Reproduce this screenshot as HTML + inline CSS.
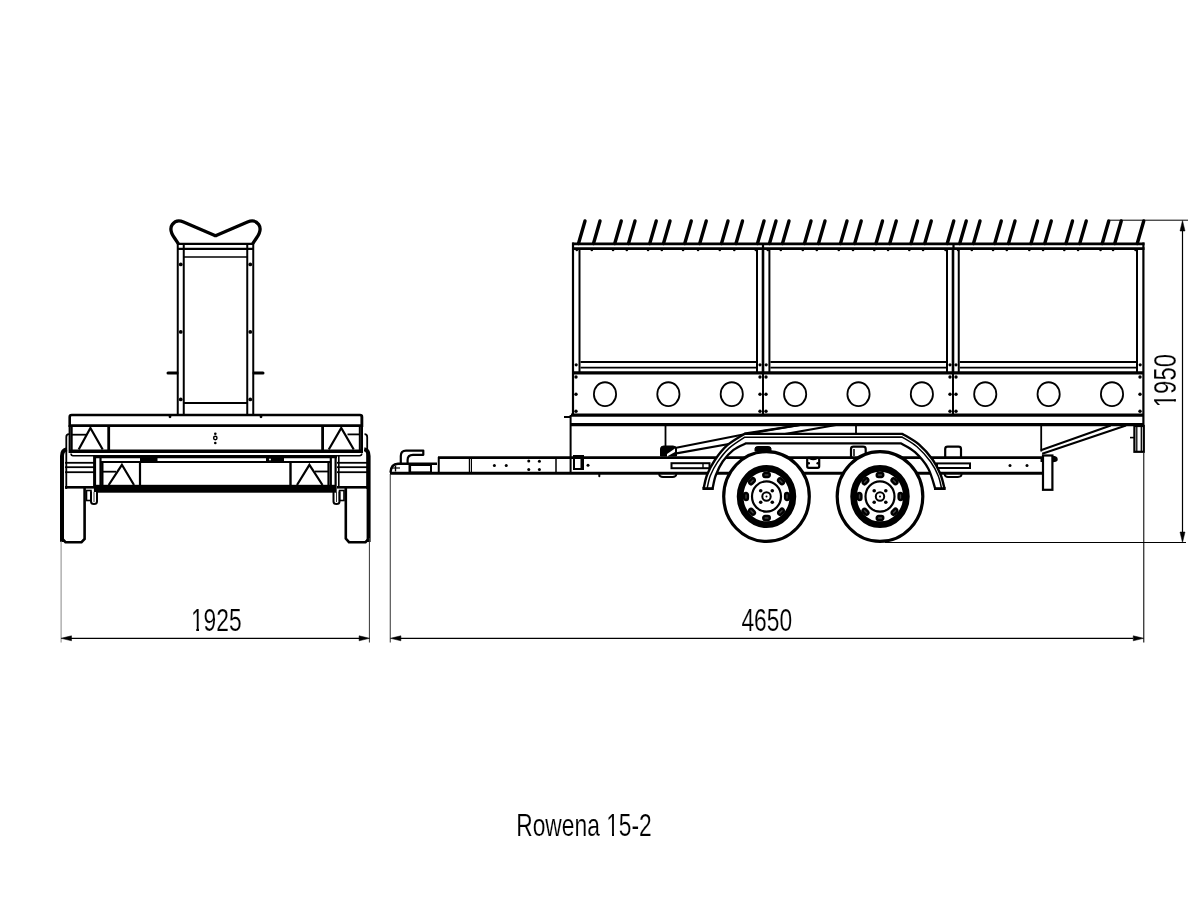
<!DOCTYPE html>
<html><head><meta charset="utf-8"><style>
html,body{margin:0;padding:0;background:#fff;}
svg{display:block;will-change:transform;}
text{font-family:"Liberation Sans", sans-serif;fill:#000;stroke:#fff;stroke-width:0.15px;}
</style></head><body>
<svg width="1200" height="900" viewBox="0 0 1200 900">
<rect width="1200" height="900" fill="#fff"/>
<path d="M178.3,243.6 L174.5,238 C171,233 169.8,228 172.3,224.5 C175,220.8 179.5,220.3 183.5,222 L214.3,235.3 Q215.5,236 216.7,235.3 L247.5,222 C251.5,220.3 256,220.8 258.7,224.5 C261.2,228 260,233 256.5,238 L252.7,243.6" fill="none" stroke="#000" stroke-width="3.3" stroke-linejoin="round"/>
<line x1="177" y1="243.9" x2="254" y2="243.9" stroke="#000" stroke-width="2.4" stroke-linecap="butt"/>
<line x1="177" y1="248.9" x2="254" y2="248.9" stroke="#000" stroke-width="2.4" stroke-linecap="butt"/>
<line x1="183.5" y1="257" x2="247.5" y2="257" stroke="#000" stroke-width="1.6" stroke-linecap="butt"/>
<line x1="177.75" y1="243" x2="177.75" y2="416" stroke="#000" stroke-width="2" stroke-linecap="butt"/>
<line x1="253.25" y1="243" x2="253.25" y2="416" stroke="#000" stroke-width="2" stroke-linecap="butt"/>
<line x1="183.75" y1="243" x2="183.75" y2="416" stroke="#000" stroke-width="2" stroke-linecap="butt"/>
<line x1="247.25" y1="243" x2="247.25" y2="416" stroke="#000" stroke-width="2" stroke-linecap="butt"/>
<circle cx="180.75" cy="264.4" r="1.9" fill="#000"/>
<circle cx="250.25" cy="264.4" r="1.9" fill="#000"/>
<circle cx="180.75" cy="331.9" r="1.9" fill="#000"/>
<circle cx="250.25" cy="331.9" r="1.9" fill="#000"/>
<circle cx="180.75" cy="399.4" r="1.9" fill="#000"/>
<circle cx="250.25" cy="399.4" r="1.9" fill="#000"/>
<line x1="168" y1="373" x2="177" y2="373" stroke="#000" stroke-width="3" stroke-linecap="round"/>
<line x1="263.0" y1="373" x2="254.0" y2="373" stroke="#000" stroke-width="3" stroke-linecap="round"/>
<line x1="183.75" y1="403" x2="247.25" y2="403" stroke="#000" stroke-width="2" stroke-linecap="butt"/>
<path d="M69.7,427 L69.7,417 Q69.7,415 71.7,415 L360,415 Q362,415 362,417 L362,427" fill="none" stroke="#000" stroke-width="2.6" />
<line x1="69" y1="425.7" x2="362.5" y2="425.7" stroke="#000" stroke-width="2.8" stroke-linecap="butt"/>
<line x1="69.5" y1="451.3" x2="362" y2="451.3" stroke="#000" stroke-width="3.4" stroke-linecap="butt"/>
<path d="M71,453.5 Q71,455.7 73,455.7 L359.5,455.7 Q361.8,455.7 361.8,453.5" fill="none" stroke="#000" stroke-width="1.5" />
<line x1="69.7" y1="425" x2="69.7" y2="453" stroke="#000" stroke-width="2.2" stroke-linecap="butt"/>
<line x1="361.8" y1="415" x2="361.8" y2="453" stroke="#000" stroke-width="2.4" stroke-linecap="butt"/>
<line x1="71.7" y1="426" x2="71.7" y2="451" stroke="#000" stroke-width="2" stroke-linecap="butt"/>
<line x1="359.8" y1="426" x2="359.8" y2="451" stroke="#000" stroke-width="2" stroke-linecap="butt"/>
<line x1="108.7" y1="426" x2="108.7" y2="451" stroke="#000" stroke-width="2.8" stroke-linecap="butt"/>
<path d="M78.7,449.5 L90.4,428 L102.7,449.5" fill="none" stroke="#000" stroke-width="2.2" />
<line x1="71" y1="434.7" x2="86" y2="434.7" stroke="#000" stroke-width="1.8" stroke-linecap="butt"/>
<line x1="322.6" y1="426" x2="322.6" y2="451" stroke="#000" stroke-width="2.8" stroke-linecap="butt"/>
<path d="M328.75,449.5 L341.25,428 L353.75,449.5" fill="none" stroke="#000" stroke-width="2.2" />
<line x1="347.5" y1="434.4" x2="360" y2="434.4" stroke="#000" stroke-width="1.8" stroke-linecap="butt"/>
<line x1="94" y1="456.8" x2="337" y2="456.8" stroke="#000" stroke-width="3" stroke-linecap="butt"/>
<line x1="101" y1="462" x2="330" y2="462" stroke="#000" stroke-width="2.2" stroke-linecap="butt"/>
<rect x="140" y="457.3" width="17.5" height="4.5" fill="#000"/>
<rect x="266" y="457.3" width="18" height="4.5" fill="#000"/>
<circle cx="270" cy="459.5" r="1" fill="#fff"/>
<line x1="102.3" y1="463" x2="102.3" y2="487" stroke="#000" stroke-width="2.4" stroke-linecap="butt"/>
<line x1="140" y1="462" x2="140" y2="487" stroke="#000" stroke-width="2.2" stroke-linecap="butt"/>
<path d="M108.7,485 L121.9,464.8 L134,485" fill="none" stroke="#000" stroke-width="2.2" />
<line x1="103" y1="471.7" x2="116" y2="471.7" stroke="#000" stroke-width="1.8" stroke-linecap="butt"/>
<line x1="290.5" y1="462" x2="290.5" y2="487" stroke="#000" stroke-width="2.4" stroke-linecap="butt"/>
<line x1="328.5" y1="462" x2="328.5" y2="487" stroke="#000" stroke-width="2.2" stroke-linecap="butt"/>
<path d="M297,485 L309.4,464.8 L322.5,485" fill="none" stroke="#000" stroke-width="2.2" />
<line x1="315" y1="471.5" x2="328" y2="471.5" stroke="#000" stroke-width="1.8" stroke-linecap="butt"/>
<rect x="96" y="484.8" width="240" height="7.9" fill="#000"/>
<line x1="95" y1="455.5" x2="95" y2="492" stroke="#000" stroke-width="2.2" stroke-linecap="butt"/>
<line x1="100.5" y1="455.5" x2="100.5" y2="492" stroke="#000" stroke-width="2.2" stroke-linecap="butt"/>
<line x1="330.8" y1="455.5" x2="330.8" y2="492" stroke="#000" stroke-width="2.2" stroke-linecap="butt"/>
<line x1="335.6" y1="455.5" x2="335.6" y2="492" stroke="#000" stroke-width="2.2" stroke-linecap="butt"/>
<line x1="65" y1="462.8" x2="94" y2="462.8" stroke="#000" stroke-width="1.8" stroke-linecap="butt"/>
<line x1="65" y1="467.2" x2="94" y2="467.2" stroke="#000" stroke-width="1.8" stroke-linecap="butt"/>
<line x1="65" y1="472.2" x2="94" y2="472.2" stroke="#000" stroke-width="1.8" stroke-linecap="butt"/>
<line x1="65" y1="487.3" x2="94" y2="487.3" stroke="#000" stroke-width="2.6" stroke-linecap="butt"/>
<line x1="337" y1="462.8" x2="367" y2="462.8" stroke="#000" stroke-width="1.8" stroke-linecap="butt"/>
<line x1="337" y1="467.2" x2="367" y2="467.2" stroke="#000" stroke-width="1.8" stroke-linecap="butt"/>
<line x1="337" y1="472.2" x2="367" y2="472.2" stroke="#000" stroke-width="1.8" stroke-linecap="butt"/>
<line x1="337" y1="487.3" x2="367" y2="487.3" stroke="#000" stroke-width="2.6" stroke-linecap="butt"/>
<line x1="93.9" y1="455" x2="93.9" y2="488" stroke="#000" stroke-width="1.6" stroke-linecap="butt"/>
<line x1="338.8" y1="455" x2="338.8" y2="488" stroke="#000" stroke-width="1.6" stroke-linecap="butt"/>
<path d="M66.3,489 L66.3,437 Q66.3,434.2 69,434.2" fill="none" stroke="#000" stroke-width="1.8" />
<path d="M367.2,489 L367.2,437 Q367.2,434.2 364.5,434.2" fill="none" stroke="#000" stroke-width="1.8" />
<path d="M62,542 L62,456 Q62,450 67,449.3" fill="none" stroke="#000" stroke-width="4" />
<path d="M62,489 L62,538.5 L65.5,542.2 L81.5,542.2 L84.6,539 L84.6,488" fill="none" stroke="#000" stroke-width="2.6" />
<path d="M368.6,542 L368.6,456 Q368.6,450 364.2,449.3" fill="none" stroke="#000" stroke-width="4" />
<path d="M368.6,489 L368.6,539 L365.5,542.2 L349,542.2 L345.8,538.5 L345.8,488" fill="none" stroke="#000" stroke-width="2.6" />
<rect x="86.5" y="490.5" width="4.5" height="10" fill="none" stroke="#000" stroke-width="1.6" rx="0"/>
<path d="M91,491.5 L91,501.5 Q91,504 94,504 Q97,504 97,501.5 L97,491.5" fill="none" stroke="#000" stroke-width="2" />
<line x1="94" y1="492" x2="94" y2="502" stroke="#000" stroke-width="0.8" stroke-linecap="butt"/>
<rect x="339.5" y="490.5" width="4.5" height="10" fill="none" stroke="#000" stroke-width="1.6" rx="0"/>
<path d="M339.5,491.5 L339.5,501.5 Q339.5,504 336.5,504 Q333.5,504 333.5,501.5 L333.5,491.5" fill="none" stroke="#000" stroke-width="2" />
<line x1="336.5" y1="492" x2="336.5" y2="502" stroke="#000" stroke-width="0.8" stroke-linecap="butt"/>
<circle cx="215.3" cy="433.7" r="1.3" fill="#000"/>
<circle cx="215.3" cy="438" r="1.7" fill="none" stroke="#000" stroke-width="1.4"/>
<circle cx="215.3" cy="443" r="1.3" fill="#000"/>
<circle cx="170" cy="416.8" r="1.4" fill="#000"/>
<circle cx="261" cy="416.8" r="1.4" fill="#000"/>
<line x1="61.1" y1="541" x2="61.1" y2="642.5" stroke="#888" stroke-width="1" stroke-linecap="butt"/>
<line x1="369.4" y1="538" x2="369.4" y2="642.5" stroke="#333" stroke-width="1" stroke-linecap="butt"/>
<line x1="71" y1="638.3" x2="360" y2="638.3" stroke="#000" stroke-width="1.3" stroke-linecap="butt"/>
<path d="M61,638.3 L71.5,635.8 L71.5,640.8 Z" fill="#000" stroke="#000" stroke-width="0.5" />
<path d="M369.6,638.3 L359.1,635.8 L359.1,640.8 Z" fill="#000" stroke="#000" stroke-width="0.5" />
<text x="216.3" y="630.8" font-size="32" text-anchor="middle" transform="translate(216.3,0) scale(0.7125,1) translate(-216.3,0)">1925</text>
<line x1="578.5" y1="243.5" x2="585" y2="221" stroke="#000" stroke-width="3.4" stroke-linecap="round"/>
<circle cx="576.8" cy="250" r="1.3" fill="#000"/>
<line x1="593.5" y1="243.5" x2="600" y2="221" stroke="#000" stroke-width="3.4" stroke-linecap="round"/>
<circle cx="591.8" cy="250" r="1.3" fill="#000"/>
<line x1="614.75" y1="243.5" x2="621.25" y2="221" stroke="#000" stroke-width="3.4" stroke-linecap="round"/>
<circle cx="613.05" cy="250" r="1.3" fill="#000"/>
<line x1="628.5" y1="243.5" x2="635" y2="221" stroke="#000" stroke-width="3.4" stroke-linecap="round"/>
<circle cx="626.8" cy="250" r="1.3" fill="#000"/>
<line x1="649.75" y1="243.5" x2="656.25" y2="221" stroke="#000" stroke-width="3.4" stroke-linecap="round"/>
<circle cx="648.05" cy="250" r="1.3" fill="#000"/>
<line x1="663.5" y1="243.5" x2="670" y2="221" stroke="#000" stroke-width="3.4" stroke-linecap="round"/>
<circle cx="661.8" cy="250" r="1.3" fill="#000"/>
<line x1="684.75" y1="243.5" x2="691.25" y2="221" stroke="#000" stroke-width="3.4" stroke-linecap="round"/>
<circle cx="683.05" cy="250" r="1.3" fill="#000"/>
<line x1="699.75" y1="243.5" x2="706.25" y2="221" stroke="#000" stroke-width="3.4" stroke-linecap="round"/>
<circle cx="698.05" cy="250" r="1.3" fill="#000"/>
<line x1="721.5" y1="243.5" x2="728" y2="221" stroke="#000" stroke-width="3.4" stroke-linecap="round"/>
<circle cx="719.8" cy="250" r="1.3" fill="#000"/>
<line x1="736.0" y1="243.5" x2="742.5" y2="221" stroke="#000" stroke-width="3.4" stroke-linecap="round"/>
<circle cx="734.3" cy="250" r="1.3" fill="#000"/>
<line x1="757.5" y1="243.5" x2="764" y2="221" stroke="#000" stroke-width="3.4" stroke-linecap="round"/>
<circle cx="755.8" cy="250" r="1.3" fill="#000"/>
<line x1="769.5" y1="243.5" x2="776" y2="221" stroke="#000" stroke-width="3.4" stroke-linecap="round"/>
<circle cx="767.8" cy="250" r="1.3" fill="#000"/>
<line x1="782.5" y1="243.5" x2="789" y2="221" stroke="#000" stroke-width="3.4" stroke-linecap="round"/>
<circle cx="780.8" cy="250" r="1.3" fill="#000"/>
<line x1="804.5" y1="243.5" x2="811" y2="221" stroke="#000" stroke-width="3.4" stroke-linecap="round"/>
<circle cx="802.8" cy="250" r="1.3" fill="#000"/>
<line x1="818.5" y1="243.5" x2="825" y2="221" stroke="#000" stroke-width="3.4" stroke-linecap="round"/>
<circle cx="816.8" cy="250" r="1.3" fill="#000"/>
<line x1="840.5" y1="243.5" x2="847" y2="221" stroke="#000" stroke-width="3.4" stroke-linecap="round"/>
<circle cx="838.8" cy="250" r="1.3" fill="#000"/>
<line x1="854.7" y1="243.5" x2="861.2" y2="221" stroke="#000" stroke-width="3.4" stroke-linecap="round"/>
<circle cx="853.0" cy="250" r="1.3" fill="#000"/>
<line x1="876.0" y1="243.5" x2="882.5" y2="221" stroke="#000" stroke-width="3.4" stroke-linecap="round"/>
<circle cx="874.3" cy="250" r="1.3" fill="#000"/>
<line x1="889.75" y1="243.5" x2="896.25" y2="221" stroke="#000" stroke-width="3.4" stroke-linecap="round"/>
<circle cx="888.05" cy="250" r="1.3" fill="#000"/>
<line x1="911.0" y1="243.5" x2="917.5" y2="221" stroke="#000" stroke-width="3.4" stroke-linecap="round"/>
<circle cx="909.3" cy="250" r="1.3" fill="#000"/>
<line x1="924.75" y1="243.5" x2="931.25" y2="221" stroke="#000" stroke-width="3.4" stroke-linecap="round"/>
<circle cx="923.05" cy="250" r="1.3" fill="#000"/>
<line x1="947.25" y1="243.5" x2="953.75" y2="221" stroke="#000" stroke-width="3.4" stroke-linecap="round"/>
<circle cx="945.55" cy="250" r="1.3" fill="#000"/>
<line x1="959.75" y1="243.5" x2="966.25" y2="221" stroke="#000" stroke-width="3.4" stroke-linecap="round"/>
<circle cx="958.05" cy="250" r="1.3" fill="#000"/>
<line x1="973.5" y1="243.5" x2="980" y2="221" stroke="#000" stroke-width="3.4" stroke-linecap="round"/>
<circle cx="971.8" cy="250" r="1.3" fill="#000"/>
<line x1="994.75" y1="243.5" x2="1001.25" y2="221" stroke="#000" stroke-width="3.4" stroke-linecap="round"/>
<circle cx="993.05" cy="250" r="1.3" fill="#000"/>
<line x1="1008.5" y1="243.5" x2="1015" y2="221" stroke="#000" stroke-width="3.4" stroke-linecap="round"/>
<circle cx="1006.8" cy="250" r="1.3" fill="#000"/>
<line x1="1031.0" y1="243.5" x2="1037.5" y2="221" stroke="#000" stroke-width="3.4" stroke-linecap="round"/>
<circle cx="1029.3" cy="250" r="1.3" fill="#000"/>
<line x1="1044.75" y1="243.5" x2="1051.25" y2="221" stroke="#000" stroke-width="3.4" stroke-linecap="round"/>
<circle cx="1043.05" cy="250" r="1.3" fill="#000"/>
<line x1="1066.0" y1="243.5" x2="1072.5" y2="221" stroke="#000" stroke-width="3.4" stroke-linecap="round"/>
<circle cx="1064.3" cy="250" r="1.3" fill="#000"/>
<line x1="1079.75" y1="243.5" x2="1086.25" y2="221" stroke="#000" stroke-width="3.4" stroke-linecap="round"/>
<circle cx="1078.05" cy="250" r="1.3" fill="#000"/>
<line x1="1102.25" y1="243.5" x2="1108.75" y2="221" stroke="#000" stroke-width="3.4" stroke-linecap="round"/>
<circle cx="1100.55" cy="250" r="1.3" fill="#000"/>
<line x1="1114.75" y1="243.5" x2="1121.25" y2="221" stroke="#000" stroke-width="3.4" stroke-linecap="round"/>
<circle cx="1113.05" cy="250" r="1.3" fill="#000"/>
<line x1="1137.25" y1="243.5" x2="1143.75" y2="221" stroke="#000" stroke-width="3.4" stroke-linecap="round"/>
<circle cx="1135.55" cy="250" r="1.3" fill="#000"/>
<line x1="572.3" y1="243.9" x2="1144.5" y2="243.9" stroke="#000" stroke-width="2.8" stroke-linecap="butt"/>
<line x1="572.3" y1="248.6" x2="1144.5" y2="248.6" stroke="#000" stroke-width="2.6" stroke-linecap="butt"/>
<line x1="763" y1="243" x2="763" y2="249.5" stroke="#000" stroke-width="2.2" stroke-linecap="butt"/>
<line x1="953.5" y1="243" x2="953.5" y2="249.5" stroke="#000" stroke-width="2.2" stroke-linecap="butt"/>
<line x1="573" y1="242.5" x2="573" y2="416" stroke="#000" stroke-width="2.2" stroke-linecap="butt"/>
<line x1="579.5" y1="248" x2="579.5" y2="373" stroke="#000" stroke-width="2" stroke-linecap="butt"/>
<line x1="757" y1="248" x2="757" y2="373" stroke="#000" stroke-width="2" stroke-linecap="butt"/>
<line x1="763" y1="248" x2="763" y2="373" stroke="#000" stroke-width="2.6" stroke-linecap="butt"/>
<line x1="769.4" y1="248" x2="769.4" y2="373" stroke="#000" stroke-width="2" stroke-linecap="butt"/>
<line x1="947" y1="248" x2="947" y2="373" stroke="#000" stroke-width="2" stroke-linecap="butt"/>
<line x1="953" y1="248" x2="953" y2="373" stroke="#000" stroke-width="2.6" stroke-linecap="butt"/>
<line x1="958.75" y1="248" x2="958.75" y2="373" stroke="#000" stroke-width="2" stroke-linecap="butt"/>
<line x1="1137" y1="248" x2="1137" y2="373" stroke="#000" stroke-width="2" stroke-linecap="butt"/>
<line x1="1143.4" y1="242.5" x2="1143.4" y2="425" stroke="#000" stroke-width="2.2" stroke-linecap="butt"/>
<line x1="580.5" y1="362" x2="756" y2="362" stroke="#000" stroke-width="2" stroke-linecap="butt"/>
<line x1="580.5" y1="367.6" x2="756" y2="367.6" stroke="#000" stroke-width="1.9" stroke-linecap="butt"/>
<line x1="770.4" y1="362" x2="946" y2="362" stroke="#000" stroke-width="2" stroke-linecap="butt"/>
<line x1="770.4" y1="367.6" x2="946" y2="367.6" stroke="#000" stroke-width="1.9" stroke-linecap="butt"/>
<line x1="959.7" y1="362" x2="1136" y2="362" stroke="#000" stroke-width="2" stroke-linecap="butt"/>
<line x1="959.7" y1="367.6" x2="1136" y2="367.6" stroke="#000" stroke-width="1.9" stroke-linecap="butt"/>
<circle cx="576.2" cy="364.8" r="1.6" fill="#000"/>
<circle cx="760" cy="364.8" r="1.6" fill="#000"/>
<circle cx="766.2" cy="364.8" r="1.6" fill="#000"/>
<circle cx="950" cy="364.8" r="1.6" fill="#000"/>
<circle cx="956" cy="364.8" r="1.6" fill="#000"/>
<circle cx="1140.2" cy="364.8" r="1.6" fill="#000"/>
<line x1="573" y1="372.9" x2="1143" y2="372.9" stroke="#000" stroke-width="3.2" stroke-linecap="butt"/>
<line x1="763" y1="372" x2="763" y2="415" stroke="#000" stroke-width="2" stroke-linecap="butt"/>
<line x1="953" y1="372" x2="953" y2="415" stroke="#000" stroke-width="2" stroke-linecap="butt"/>
<ellipse cx="605.0" cy="394.15" rx="11.1" ry="11.9" fill="none" stroke="#000" stroke-width="1.8"/>
<ellipse cx="668.375" cy="394.15" rx="11.1" ry="11.9" fill="none" stroke="#000" stroke-width="1.8"/>
<ellipse cx="731.75" cy="394.15" rx="11.1" ry="11.9" fill="none" stroke="#000" stroke-width="1.8"/>
<ellipse cx="795.125" cy="394.15" rx="11.1" ry="11.9" fill="none" stroke="#000" stroke-width="1.8"/>
<ellipse cx="858.5" cy="394.15" rx="11.1" ry="11.9" fill="none" stroke="#000" stroke-width="1.8"/>
<ellipse cx="921.875" cy="394.15" rx="11.1" ry="11.9" fill="none" stroke="#000" stroke-width="1.8"/>
<ellipse cx="985.25" cy="394.15" rx="11.1" ry="11.9" fill="none" stroke="#000" stroke-width="1.8"/>
<ellipse cx="1048.625" cy="394.15" rx="11.1" ry="11.9" fill="none" stroke="#000" stroke-width="1.8"/>
<ellipse cx="1112.0" cy="394.15" rx="11.1" ry="11.9" fill="none" stroke="#000" stroke-width="1.8"/>
<circle cx="576" cy="377" r="1.7" fill="#000"/>
<circle cx="576" cy="394.2" r="1.7" fill="#000"/>
<circle cx="576" cy="411.25" r="1.7" fill="#000"/>
<circle cx="760" cy="377" r="1.7" fill="#000"/>
<circle cx="760" cy="394.2" r="1.7" fill="#000"/>
<circle cx="760" cy="411.25" r="1.7" fill="#000"/>
<circle cx="766" cy="377" r="1.7" fill="#000"/>
<circle cx="766" cy="394.2" r="1.7" fill="#000"/>
<circle cx="766" cy="411.25" r="1.7" fill="#000"/>
<circle cx="950" cy="377" r="1.7" fill="#000"/>
<circle cx="950" cy="394.2" r="1.7" fill="#000"/>
<circle cx="950" cy="411.25" r="1.7" fill="#000"/>
<circle cx="956" cy="377" r="1.7" fill="#000"/>
<circle cx="956" cy="394.2" r="1.7" fill="#000"/>
<circle cx="956" cy="411.25" r="1.7" fill="#000"/>
<circle cx="1140" cy="377" r="1.7" fill="#000"/>
<circle cx="1140" cy="394.2" r="1.7" fill="#000"/>
<circle cx="1140" cy="411.25" r="1.7" fill="#000"/>
<line x1="571" y1="415.1" x2="1144" y2="415.1" stroke="#000" stroke-width="3.2" stroke-linecap="butt"/>
<line x1="571" y1="424.6" x2="1144" y2="424.6" stroke="#000" stroke-width="3.2" stroke-linecap="butt"/>
<line x1="570.6" y1="415" x2="570.6" y2="473" stroke="#000" stroke-width="2" stroke-linecap="butt"/>
<line x1="564" y1="417" x2="571" y2="417" stroke="#000" stroke-width="2" stroke-linecap="butt"/>
<line x1="438" y1="457.6" x2="1043" y2="457.6" stroke="#000" stroke-width="2.6" stroke-linecap="butt"/>
<line x1="390" y1="473.2" x2="1043" y2="473.2" stroke="#000" stroke-width="3" stroke-linecap="butt"/>
<line x1="438.75" y1="457" x2="438.75" y2="473" stroke="#000" stroke-width="2" stroke-linecap="butt"/>
<line x1="469.4" y1="457" x2="469.4" y2="473" stroke="#000" stroke-width="1.2" stroke-linecap="butt"/>
<line x1="471.4" y1="457" x2="471.4" y2="473" stroke="#000" stroke-width="1.2" stroke-linecap="butt"/>
<line x1="556" y1="457" x2="556" y2="473" stroke="#000" stroke-width="1.5" stroke-linecap="butt"/>
<circle cx="494.4" cy="465.6" r="1.5" fill="#000"/>
<circle cx="506.25" cy="465.6" r="1.5" fill="#000"/>
<circle cx="528.75" cy="461" r="1.5" fill="#000"/>
<circle cx="528.75" cy="469.4" r="1.5" fill="#000"/>
<circle cx="539.4" cy="461.25" r="1.5" fill="#000"/>
<circle cx="539.4" cy="469.4" r="1.5" fill="#000"/>
<circle cx="588" cy="465.3" r="1.5" fill="#000"/>
<circle cx="1010" cy="465.5" r="1.5" fill="#000"/>
<circle cx="1027" cy="465.5" r="1.5" fill="#000"/>
<rect x="574" y="456" width="9" height="13" fill="none" stroke="#000" stroke-width="2" rx="0"/>
<rect x="580.5" y="456" width="3.3" height="13" fill="#000"/>
<line x1="599.3" y1="473.5" x2="599.3" y2="476.3" stroke="#000" stroke-width="2" stroke-linecap="round"/>
<path d="M390.5,472.5 Q391,464 398,463.8 L437,463.8" fill="none" stroke="#000" stroke-width="2.4" />
<rect x="410" y="465" width="21" height="7.5" fill="none" stroke="#000" stroke-width="2" rx="0"/>
<path d="M400.8,463 L400.8,456 Q400.8,450.6 406,450.6 L423.3,450.6 L423.3,454.8 L413,454.8 Q407.6,454.8 407.6,460 L407.6,463" fill="none" stroke="#000" stroke-width="2.2" stroke-linejoin="round"/>
<line x1="395.5" y1="465.5" x2="395.5" y2="471.5" stroke="#000" stroke-width="1.4" stroke-linecap="butt"/>
<line x1="392" y1="468" x2="400" y2="468" stroke="#000" stroke-width="1.2" stroke-linecap="butt"/>
<line x1="409.8" y1="464.5" x2="409.8" y2="472.5" stroke="#000" stroke-width="2.6" stroke-linecap="butt"/>
<line x1="665.5" y1="424" x2="665.5" y2="447" stroke="#000" stroke-width="1.8" stroke-linecap="butt"/>
<line x1="856" y1="424" x2="856" y2="434" stroke="#000" stroke-width="1.8" stroke-linecap="butt"/>
<line x1="1041.2" y1="424" x2="1041.2" y2="451.5" stroke="#000" stroke-width="1.8" stroke-linecap="butt"/>
<path d="M675,448 L742,434.8 L800,425 M675,453.6 L836,425" fill="none" stroke="#000" stroke-width="2.1" />
<path d="M1040.8,450.3 L1110.7,425.5 M1042.2,453.7 L1126,425.5" fill="none" stroke="#000" stroke-width="2" />
<path d="M660.5,456 L660.5,449 Q660.5,446 663.5,446 L673,446 Q676.5,446 676.5,449 L676.5,456 Z" fill="#000" stroke="#000" stroke-width="1" />
<path d="M667,454 L675,448.5 L675,452 L667,456.5 Z" fill="#fff" stroke="#000" stroke-width="0" />
<path d="M755,451 L755,448.5 Q755,446.5 758,446.5 L768,446.5 Q771,446.5 771,448.5 L771,451 Z" fill="#000" stroke="#000" stroke-width="1" />
<path d="M851,457 L851,449 Q851,446.7 853.5,446.7 L863,446.7 Q865.7,446.7 865.7,449 L865.7,457" fill="none" stroke="#000" stroke-width="2.2" />
<line x1="854" y1="449" x2="854" y2="456" stroke="#000" stroke-width="1.5" stroke-linecap="butt"/>
<path d="M945.2,457 L945.2,449 Q945.2,446.7 947.7,446.7 L958.5,446.7 Q961,446.7 961,449 L961,457" fill="none" stroke="#000" stroke-width="2.2" />
<rect x="807.2" y="457.8" width="12" height="10" fill="none" stroke="#000" stroke-width="2.2" rx="1.5"/>
<circle cx="808.7" cy="463.2" r="1.3" fill="#000"/>
<circle cx="817.7" cy="463.2" r="1.3" fill="#000"/>
<path d="M809.5,458.5 Q813.2,460.5 817,458.5" fill="none" stroke="#000" stroke-width="1.5" />
<rect x="671.5" y="463.2" width="38" height="5" fill="none" stroke="#000" stroke-width="2" rx="0"/>
<line x1="703" y1="463" x2="703" y2="468.5" stroke="#000" stroke-width="1.4" stroke-linecap="butt"/>
<rect x="937" y="463.4" width="33" height="4.6" fill="none" stroke="#000" stroke-width="2" rx="0"/>
<path d="M659,474 Q659.5,477 663,477 L672.5,477 Q676,477 676.5,474" fill="none" stroke="#000" stroke-width="1.8" />
<path d="M944.5,474 Q945,477 948,477 L958,477 Q961.5,477 961.7,474" fill="none" stroke="#000" stroke-width="1.8" />
<rect x="1134.4" y="426" width="9.4" height="25.8" fill="none" stroke="#000" stroke-width="2.2" rx="0"/>
<line x1="1136.8" y1="427" x2="1136.8" y2="451" stroke="#000" stroke-width="1.3" stroke-linecap="butt"/>
<line x1="1141.3" y1="427" x2="1141.3" y2="451" stroke="#000" stroke-width="1.3" stroke-linecap="butt"/>
<line x1="1130" y1="437.6" x2="1134.5" y2="437.6" stroke="#000" stroke-width="1.6" stroke-linecap="butt"/>
<rect x="1043" y="455.5" width="9.4" height="34.3" fill="none" stroke="#000" stroke-width="2.2" rx="0"/>
<path d="M1052.5,456.5 Q1057,456.5 1057,459.5 Q1057,461.5 1052.5,461.5" fill="#000" stroke="#000" stroke-width="1.5" />
<line x1="1041.5" y1="459" x2="1041.5" y2="462" stroke="#000" stroke-width="2" stroke-linecap="butt"/>
<path d="M703.6,488.6 C704.18,486.30 705.22,479.57 707.10,474.80 C708.98,470.03 711.53,464.93 714.90,460.00 C718.27,455.07 722.38,449.55 727.30,445.20 C732.22,440.85 741.55,435.78 744.40,433.90 L902.5,433.9 C905.23,435.65 913.83,440.05 918.90,444.40 C923.97,448.75 929.27,454.93 932.90,460.00 C936.52,465.07 938.72,470.03 940.65,474.80 C942.58,479.57 943.86,486.30 944.50,488.60 L935.2,488.6 C934.03,485.25 931.57,474.57 928.20,468.50 C924.83,462.43 919.60,456.40 915.00,452.20 C910.40,448.00 903.00,444.78 900.60,443.30 L746,443.3 C743.92,444.40 737.38,446.87 733.50,449.90 C729.62,452.93 725.67,457.23 722.70,461.50 C719.73,465.77 717.38,470.98 715.70,475.50 C714.02,480.02 713.12,486.42 712.60,488.60 Z" fill="#fff" stroke="none"/>
<path d="M703.6,488.6 C704.18,486.30 705.22,479.57 707.10,474.80 C708.98,470.03 711.53,464.93 714.90,460.00 C718.27,455.07 722.38,449.55 727.30,445.20 C732.22,440.85 741.55,435.78 744.40,433.90 L902.5,433.9 C905.23,435.65 913.83,440.05 918.90,444.40 C923.97,448.75 929.27,454.93 932.90,460.00 C936.52,465.07 938.72,470.03 940.65,474.80 C942.58,479.57 943.86,486.30 944.50,488.60" fill="none" stroke="#000" stroke-width="2.4" stroke-linejoin="round"/>
<path d="M707.1,488.6 C707.63,486.47 708.57,480.20 710.30,475.80 C712.03,471.40 714.37,466.82 717.50,462.20 C720.63,457.58 724.62,452.25 729.10,448.10 C733.58,443.95 741.85,439.10 744.40,437.30 L901.8,436.9 C904.33,438.55 912.20,442.65 917.00,446.80 C921.80,450.95 927.07,456.97 930.60,461.80 C934.13,466.63 936.37,471.33 938.20,475.80 C940.03,480.27 941.03,486.47 941.60,488.60" fill="none" stroke="#000" stroke-width="1.5" stroke-linejoin="round"/>
<path d="M712.6,488.6 C713.12,486.42 714.02,480.02 715.70,475.50 C717.38,470.98 719.73,465.77 722.70,461.50 C725.67,457.23 729.62,452.93 733.50,449.90 C737.38,446.87 743.92,444.40 746.00,443.30 L900.6,443.3 C903.00,444.78 910.40,448.00 915.00,452.20 C919.60,456.40 924.83,462.43 928.20,468.50 C931.57,474.57 934.03,485.25 935.20,488.60" fill="none" stroke="#000" stroke-width="2.3" stroke-linejoin="round"/>
<line x1="702.4" y1="488.6" x2="713.8" y2="488.6" stroke="#000" stroke-width="2.8" stroke-linecap="butt"/>
<line x1="934" y1="488.6" x2="945.7" y2="488.6" stroke="#000" stroke-width="2.8" stroke-linecap="butt"/>
<line x1="744.4" y1="433.6" x2="800" y2="425" stroke="#000" stroke-width="2" stroke-linecap="butt"/>
<ellipse cx="766.5" cy="496.5" rx="42.8" ry="44.9" fill="#fff" stroke="#000" stroke-width="3.2"/>
<ellipse cx="766.5" cy="496.5" rx="26.4" ry="28.2" fill="none" stroke="#000" stroke-width="6.7"/>
<ellipse cx="766.5" cy="496.5" rx="14.5" ry="15.2" fill="none" stroke="#000" stroke-width="2.2"/>
<circle cx="766.5" cy="496.5" r="4.2" fill="none" stroke="#000" stroke-width="2"/>
<circle cx="766.5" cy="496.5" r="1.0" fill="#000"/>
<circle cx="760.7" cy="490.7" r="1.8" fill="#000"/>
<circle cx="772.3" cy="490.7" r="1.8" fill="#000"/>
<circle cx="760.7" cy="502.3" r="1.8" fill="#000"/>
<circle cx="772.3" cy="502.3" r="1.8" fill="#000"/>
<rect x="-3.3" y="-1.9" width="6.6" height="3.8" rx="1.9" fill="#444" stroke="#000" stroke-width="2.4" transform="translate(766.5,496.5) scale(1,1.05) rotate(0) translate(0,-20.5)"/>
<rect x="-3.3" y="-1.9" width="6.6" height="3.8" rx="1.9" fill="#444" stroke="#000" stroke-width="2.4" transform="translate(766.5,496.5) scale(1,1.05) rotate(45) translate(0,-20.5)"/>
<rect x="-3.3" y="-1.9" width="6.6" height="3.8" rx="1.9" fill="#444" stroke="#000" stroke-width="2.4" transform="translate(766.5,496.5) scale(1,1.05) rotate(90) translate(0,-20.5)"/>
<rect x="-3.3" y="-1.9" width="6.6" height="3.8" rx="1.9" fill="#444" stroke="#000" stroke-width="2.4" transform="translate(766.5,496.5) scale(1,1.05) rotate(135) translate(0,-20.5)"/>
<rect x="-3.3" y="-1.9" width="6.6" height="3.8" rx="1.9" fill="#444" stroke="#000" stroke-width="2.4" transform="translate(766.5,496.5) scale(1,1.05) rotate(180) translate(0,-20.5)"/>
<rect x="-3.3" y="-1.9" width="6.6" height="3.8" rx="1.9" fill="#444" stroke="#000" stroke-width="2.4" transform="translate(766.5,496.5) scale(1,1.05) rotate(225) translate(0,-20.5)"/>
<rect x="-3.3" y="-1.9" width="6.6" height="3.8" rx="1.9" fill="#444" stroke="#000" stroke-width="2.4" transform="translate(766.5,496.5) scale(1,1.05) rotate(270) translate(0,-20.5)"/>
<rect x="-3.3" y="-1.9" width="6.6" height="3.8" rx="1.9" fill="#444" stroke="#000" stroke-width="2.4" transform="translate(766.5,496.5) scale(1,1.05) rotate(315) translate(0,-20.5)"/>
<ellipse cx="880" cy="496.5" rx="42.8" ry="44.9" fill="#fff" stroke="#000" stroke-width="3.2"/>
<ellipse cx="880" cy="496.5" rx="26.4" ry="28.2" fill="none" stroke="#000" stroke-width="6.7"/>
<ellipse cx="880" cy="496.5" rx="14.5" ry="15.2" fill="none" stroke="#000" stroke-width="2.2"/>
<circle cx="880" cy="496.5" r="4.2" fill="none" stroke="#000" stroke-width="2"/>
<circle cx="880" cy="496.5" r="1.0" fill="#000"/>
<circle cx="874.2" cy="490.7" r="1.8" fill="#000"/>
<circle cx="885.8" cy="490.7" r="1.8" fill="#000"/>
<circle cx="874.2" cy="502.3" r="1.8" fill="#000"/>
<circle cx="885.8" cy="502.3" r="1.8" fill="#000"/>
<rect x="-3.3" y="-1.9" width="6.6" height="3.8" rx="1.9" fill="#444" stroke="#000" stroke-width="2.4" transform="translate(880,496.5) scale(1,1.05) rotate(0) translate(0,-20.5)"/>
<rect x="-3.3" y="-1.9" width="6.6" height="3.8" rx="1.9" fill="#444" stroke="#000" stroke-width="2.4" transform="translate(880,496.5) scale(1,1.05) rotate(45) translate(0,-20.5)"/>
<rect x="-3.3" y="-1.9" width="6.6" height="3.8" rx="1.9" fill="#444" stroke="#000" stroke-width="2.4" transform="translate(880,496.5) scale(1,1.05) rotate(90) translate(0,-20.5)"/>
<rect x="-3.3" y="-1.9" width="6.6" height="3.8" rx="1.9" fill="#444" stroke="#000" stroke-width="2.4" transform="translate(880,496.5) scale(1,1.05) rotate(135) translate(0,-20.5)"/>
<rect x="-3.3" y="-1.9" width="6.6" height="3.8" rx="1.9" fill="#444" stroke="#000" stroke-width="2.4" transform="translate(880,496.5) scale(1,1.05) rotate(180) translate(0,-20.5)"/>
<rect x="-3.3" y="-1.9" width="6.6" height="3.8" rx="1.9" fill="#444" stroke="#000" stroke-width="2.4" transform="translate(880,496.5) scale(1,1.05) rotate(225) translate(0,-20.5)"/>
<rect x="-3.3" y="-1.9" width="6.6" height="3.8" rx="1.9" fill="#444" stroke="#000" stroke-width="2.4" transform="translate(880,496.5) scale(1,1.05) rotate(270) translate(0,-20.5)"/>
<rect x="-3.3" y="-1.9" width="6.6" height="3.8" rx="1.9" fill="#444" stroke="#000" stroke-width="2.4" transform="translate(880,496.5) scale(1,1.05) rotate(315) translate(0,-20.5)"/>
<line x1="390.25" y1="474" x2="390.25" y2="642.5" stroke="#333" stroke-width="1" stroke-linecap="butt"/>
<line x1="1143.75" y1="453" x2="1143.75" y2="642.5" stroke="#222" stroke-width="1.2" stroke-linecap="butt"/>
<line x1="400" y1="638.3" x2="1133" y2="638.3" stroke="#000" stroke-width="1.3" stroke-linecap="butt"/>
<path d="M390.4,638.3 L400.9,635.8 L400.9,640.8 Z" fill="#000" stroke="#000" stroke-width="0.5" />
<path d="M1143.75,638.3 L1133.25,635.8 L1133.25,640.8 Z" fill="#000" stroke="#000" stroke-width="0.5" />
<text x="766.8" y="630.8" font-size="32" text-anchor="middle" transform="translate(766.8,0) scale(0.7125,1) translate(-766.8,0)">4650</text>
<line x1="1110" y1="220.2" x2="1188" y2="220.2" stroke="#000" stroke-width="1" stroke-linecap="butt"/>
<line x1="885" y1="542.5" x2="1186" y2="542.5" stroke="#000" stroke-width="1.2" stroke-linecap="butt"/>
<line x1="1182.5" y1="230" x2="1182.5" y2="533" stroke="#000" stroke-width="1.2" stroke-linecap="butt"/>
<path d="M1182.5,220.5 L1180,231 L1185,231 Z" fill="#000" stroke="#000" stroke-width="0.5" />
<path d="M1182.5,542.5 L1180,532 L1185,532 Z" fill="#000" stroke="#000" stroke-width="0.5" />
<text x="0" y="0" font-size="30.5" text-anchor="middle" transform="translate(1175.6,380.6) rotate(-90) scale(0.785,1)">1950</text>
<text x="584" y="835.6" font-size="32" text-anchor="middle" transform="translate(584,0) scale(0.7125,1) translate(-584,0)">Rowena 15-2</text>
<rect x="191.5" y="627.9" width="4.75" height="3.5" fill="#fff"/>
<rect x="199" y="627.9" width="4.5" height="3.5" fill="#fff"/>
<rect x="1172.8" y="394.5" width="4.4" height="4.6" fill="#fff"/>
<rect x="1172.8" y="401.5" width="4.4" height="4.6" fill="#fff"/>
<rect x="607" y="833" width="5" height="3.5" fill="#fff"/>
<rect x="614" y="833" width="5" height="3.5" fill="#fff"/>
</svg>
</body></html>
